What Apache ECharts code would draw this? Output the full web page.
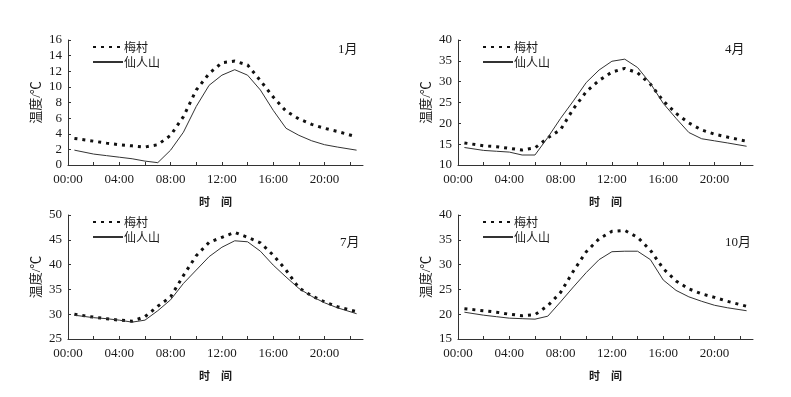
<!DOCTYPE html>
<html>
<head>
<meta charset="utf-8">
<script src="https://cdn.jsdelivr.net/npm/echarts@6/dist/echarts.min.js"></script>
<style>
html, body { margin: 0; padding: 0; background: #fff; }
#chart { width: 791px; height: 397px; }
</style>
</head>
<body>
<div id="chart"></div>
<script>
var hours = [0.5, 2, 3, 4, 5, 6, 7, 8, 9, 10, 11, 12, 13, 14, 15, 16, 17, 18, 19, 20, 21, 22.5];
var timeLabels = ['00:00', '04:00', '08:00', '12:00', '16:00', '20:00'];
var months = ['1月', '4月', '7月', '10月'];

// 梅村
var meiJan = [3.4, 3.05, 2.8, 2.6, 2.45, 2.3, 2.6, 3.8, 6.2, 9.6, 11.7, 13.1, 13.3, 12.8, 10.8, 8.7, 6.9, 5.9, 5.2, 4.7, 4.3, 3.6];
var meiApr = [15.3, 14.6, 14.4, 14.0, 13.6, 14.1, 16.5, 18.5, 23.5, 27.6, 30.3, 32.3, 33.2, 32.1, 29.4, 25.4, 22.4, 20.1, 18.4, 17.4, 16.7, 15.7];
var meiJul = [30.0, 29.4, 29.1, 28.8, 28.6, 29.5, 31.6, 33.5, 37.8, 41.8, 44.5, 45.5, 46.5, 45.5, 44.4, 41.9, 38.9, 35.3, 33.7, 32.5, 31.5, 30.5];
var meiOct = [21.1, 20.7, 20.4, 20.0, 19.7, 19.9, 21.7, 24.4, 28.7, 32.6, 35.2, 36.7, 36.9, 35.5, 32.9, 29.2, 26.7, 25.1, 24.1, 23.4, 22.6, 21.6];

// 仙人山
var xianJan = [1.9, 1.4, 1.2, 1.0, 0.8, 0.5, 0.3, 1.9, 4.2, 7.5, 10.2, 11.5, 12.2, 11.5, 9.6, 7.0, 4.7, 3.8, 3.1, 2.6, 2.3, 1.9];
var xianApr = [14.2, 13.5, 13.3, 13.1, 12.4, 12.4, 16.6, 21.2, 25.4, 29.8, 32.8, 34.9, 35.4, 33.4, 29.6, 24.8, 21.2, 17.8, 16.3, 15.8, 15.3, 14.5];
var xianJul = [29.8, 29.3, 29.1, 28.8, 28.4, 28.8, 30.7, 32.9, 36.2, 38.9, 41.6, 43.5, 44.8, 44.6, 42.7, 39.9, 37.5, 35.2, 33.6, 32.3, 31.3, 30.1];
var xianOct = [20.4, 19.8, 19.5, 19.2, 19.1, 19.0, 19.6, 22.5, 25.5, 28.4, 31.0, 32.6, 32.7, 32.7, 31.0, 26.9, 24.8, 23.5, 22.6, 21.8, 21.3, 20.7];

var yMin = [0, 10, 25, 15];
var yMax = [16, 40, 50, 40];
var yStep = [2, 5, 5, 5];

var meiData = [meiJan, meiApr, meiJul, meiOct];
var xianData = [xianJan, xianApr, xianJul, xianOct];

var numFont = 'Liberation Serif, "Noto Sans CJK SC"';
var cnFont = '"Noto Sans CJK SC"';
var ink = '#1a1a1a';

var chart = echarts.init(document.getElementById('chart'));

var gridPos = [
    {left: 68, top: 40, width: 295, height: 125},
    {left: 458, top: 40, width: 295, height: 125},
    {left: 68, top: 215, width: 295, height: 124},
    {left: 458, top: 215, width: 295, height: 124}
];
var legendPos = [
    {left: 92, top: 41},
    {left: 482, top: 41},
    {left: 92, top: 216},
    {left: 482, top: 216}
];
var monthPos = [
    {left: 338, top: 43},
    {left: 725, top: 43},
    {left: 340, top: 236},
    {left: 725, top: 236}
];

function pairs(vals) {
    return hours.map(function (h, k) { return [h, vals[k]]; });
}

var grids = [], xAxes = [], yAxes = [], series = [], legends = [], graphics = [];
for (var i = 0; i < 4; i++) {
    grids.push(gridPos[i]);
    xAxes.push({
        type: 'value',
        gridIndex: i,
        min: 0,
        max: 23,
        interval: 2,
        name: '时　间',
        nameLocation: 'middle',
        nameGap: 31,
        nameTextStyle: {fontFamily: cnFont, fontSize: 11, color: ink, fontWeight: 'bold'},
        axisLine: {lineStyle: {color: '#333', width: 1}},
        axisTick: {inside: true, length: 3, lineStyle: {color: '#333'}},
        splitLine: {show: false},
        axisLabel: {
            color: ink,
            fontFamily: numFont,
            fontSize: 13,
            margin: 8,
            showMaxLabel: false,
            formatter: function (v) {
                return v % 4 === 0 ? timeLabels[v / 4] : '';
            }
        }
    });
    yAxes.push({
        type: 'value',
        gridIndex: i,
        min: yMin[i],
        max: yMax[i],
        interval: yStep[i],
        name: '温度/℃',
        nameLocation: 'middle',
        nameGap: 25,
        nameTextStyle: {fontFamily: numFont, fontSize: 13, color: ink},
        axisLine: {show: true, lineStyle: {color: '#333', width: 1}},
        axisTick: {show: true, inside: true, length: 3, lineStyle: {color: '#333'}},
        splitLine: {show: false},
        axisLabel: {color: ink, fontFamily: numFont, fontSize: 13, margin: 6}
    });
    series.push({
        name: '梅村',
        type: 'line',
        xAxisIndex: i,
        yAxisIndex: i,
        showSymbol: false,
        symbol: 'none',
        lineStyle: {color: '#111', width: 3, type: [3, 5], cap: 'butt'},
        itemStyle: {color: '#111'},
        data: pairs(meiData[i])
    });
    series.push({
        name: '仙人山',
        type: 'line',
        xAxisIndex: i,
        yAxisIndex: i,
        showSymbol: false,
        symbol: 'none',
        lineStyle: {color: '#333', width: 1},
        itemStyle: {color: '#333'},
        data: pairs(xianData[i])
    });
    legends.push({
        left: legendPos[i].left,
        top: legendPos[i].top,
        orient: 'vertical',
        itemWidth: 30,
        itemHeight: 14,
        itemGap: 3,
        padding: 0,
        selectedMode: false,
        itemStyle: {opacity: 0},
        textStyle: {fontFamily: cnFont, fontSize: 12, color: ink, padding: [0, 0, 0, -4]},
        data: ['梅村', '仙人山']
    });
    graphics.push({
        type: 'text',
        left: monthPos[i].left,
        top: monthPos[i].top,
        style: {text: months[i], fontFamily: numFont, fontSize: 13, fill: ink}
    });
}

var option = {
    backgroundColor: '#fff',
    animation: false,
    grid: grids,
    xAxis: xAxes,
    yAxis: yAxes,
    legend: legends,
    graphic: graphics,
    series: series
};
chart.setOption(option);
</script>
</body>
</html>
